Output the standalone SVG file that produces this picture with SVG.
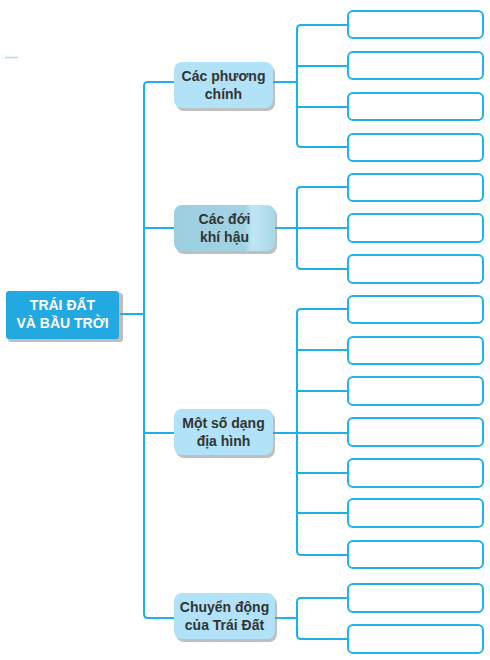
<svg xmlns="http://www.w3.org/2000/svg" width="490" height="660" viewBox="0 0 490 660">
<defs>
<style>
.ln{fill:none;stroke:#1db1e9;stroke-width:2;stroke-linejoin:round}
.leaf{fill:#ffffff;stroke:#1fb3ea;stroke-width:2}
.sub{fill:#b2e2f7}
.shadow{fill:#8a8a8a;opacity:0.55}
.t{font-family:"Liberation Sans",Arial,sans-serif;font-weight:bold;font-size:14px;text-anchor:middle;fill:#333333}
.tr{font-family:"Liberation Sans",Arial,sans-serif;font-weight:bold;font-size:14px;text-anchor:middle;fill:#ffffff}
</style>
<linearGradient id="g2" x1="0" y1="0" x2="1" y2="0">
<stop offset="0" stop-color="#9dcfe0"/>
<stop offset="0.7" stop-color="#a2d3e4"/>
<stop offset="0.78" stop-color="#c0e6f4"/>
<stop offset="1" stop-color="#a9d6e8"/>
</linearGradient>
</defs>
<rect width="490" height="660" fill="#ffffff"/>
<line x1="5" y1="57.5" x2="18" y2="57.5" stroke="#a8dcf2" stroke-width="1.5"/>
<g id="connectors">
<path class="ln" d="M120,314 H144"/>
<path class="ln" d="M174,82 H148 Q144,82 144,86 V614 Q144,618 148,618 H174"/>
<path class="ln" d="M144,228 H174 M144,433 H174"/>
<path class="ln" d="M273,82 H297"/>
<path class="ln" d="M348,25 H301 Q297,25 297,29 V143 Q297,147 301,147 H348 M297,66 H348 M297,107 H348"/>
<path class="ln" d="M275,228 H348"/>
<path class="ln" d="M348,187 H301 Q297,187 297,191 V265 Q297,269 301,269 H348"/>
<path class="ln" d="M273,433 H297"/>
<path class="ln" d="M348,309 H301 Q297,309 297,313 V551 Q297,555 301,555 H348 M297,350 H348 M297,391 H348 M297,433 H348 M297,473 H348 M297,513 H348"/>
<path class="ln" d="M275,618 H297"/>
<path class="ln" d="M348,598 H301 Q297,598 297,602 V635 Q297,639 301,639 H348"/>
</g>
<g id="root">
<rect class="shadow" x="8" y="293" width="115" height="49" rx="3"/>
<rect x="6" y="291" width="113" height="48" rx="3" fill="#22a9e1"/>
<text class="tr" x="62.5" y="310">TRÁI ĐẤT</text>
<text class="tr" x="62.5" y="328">VÀ BẦU TRỜI</text>
</g>
<g id="n1">
<rect class="shadow" x="176" y="65" width="99" height="46" rx="8"/>
<rect class="sub" x="174" y="62" width="99" height="46" rx="8"/>
<text class="t" x="223.5" y="81">Các phương</text>
<text class="t" x="223.5" y="99">chính</text>
</g>
<g id="n2">
<rect class="shadow" x="176" y="208" width="101" height="46" rx="8"/>
<rect x="174" y="205" width="101" height="46" rx="8" fill="url(#g2)"/>
<text class="t" x="224.5" y="224">Các đới</text>
<text class="t" x="224.5" y="242">khí hậu</text>
</g>
<g id="n3">
<rect class="shadow" x="176" y="412" width="99" height="46" rx="8"/>
<rect class="sub" x="174" y="409" width="99" height="46" rx="8"/>
<text class="t" x="223.5" y="428">Một số dạng</text>
<text class="t" x="223.5" y="446">địa hình</text>
</g>
<g id="n4">
<rect class="shadow" x="176" y="596" width="101" height="46" rx="8"/>
<rect class="sub" x="174" y="593" width="101" height="46" rx="8"/>
<text class="t" x="224.5" y="612">Chuyển động</text>
<text class="t" x="224.5" y="630">của Trái Đất</text>
</g>
<g id="leaves">
<rect class="leaf" x="348" y="11" width="135" height="27" rx="5"/>
<rect class="leaf" x="348" y="52" width="135" height="27" rx="5"/>
<rect class="leaf" x="348" y="93" width="135" height="27" rx="5"/>
<rect class="leaf" x="348" y="134" width="135" height="27" rx="5"/>
<rect class="leaf" x="348" y="174" width="135" height="27" rx="5"/>
<rect class="leaf" x="348" y="214" width="135" height="28" rx="5"/>
<rect class="leaf" x="348" y="255" width="135" height="28" rx="5"/>
<rect class="leaf" x="348" y="296" width="135" height="27" rx="5"/>
<rect class="leaf" x="348" y="337" width="135" height="27" rx="5"/>
<rect class="leaf" x="348" y="377" width="135" height="28" rx="5"/>
<rect class="leaf" x="348" y="418" width="135" height="28" rx="5"/>
<rect class="leaf" x="348" y="459" width="135" height="28" rx="5"/>
<rect class="leaf" x="348" y="499" width="135" height="28" rx="5"/>
<rect class="leaf" x="348" y="541" width="135" height="27" rx="5"/>
<rect class="leaf" x="348" y="584" width="135" height="28" rx="5"/>
<rect class="leaf" x="348" y="625" width="135" height="28" rx="5"/>
</g>
</svg>
